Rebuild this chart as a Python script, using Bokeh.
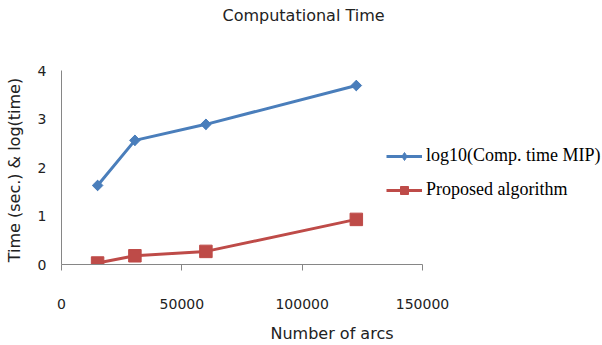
from bokeh.plotting import figure
from bokeh.models import Range1d, Legend, LegendItem, FixedTicker
from bokeh.embed import file_html
from bokeh.resources import INLINE
import math

title_text = "Computational Time"
x_label = "Number of arcs"
y_label = "Time (sec.)  & log(time)"
arcs = [15000, 30500, 60000, 122500]
mip_log = [1.63, 2.56, 2.89, 3.69]
proposed = [0.03, 0.18, 0.27, 0.93]
series_names = ["log10(Comp. time MIP)", "Proposed algorithm"]
x_ticks = [0, 50000, 100000, 150000]
y_ticks = [0, 1, 2, 3, 4]

BLUE = "#4A7EBB"
RED = "#BE4B48"

W, H = 602, 345
fl = 61          # frame left (canvas px)
ft = 70          # frame top
fb = 266         # frame bottom (canvas px)
px_x = 361 / 150000.0   # pixels per x unit

x_end = (W - fl) / px_x

p = figure(width=W, height=H, output_backend="svg", toolbar_location=None,
           x_range=Range1d(0, x_end), y_range=Range1d(y_ticks[0], y_ticks[-1]),
           min_border_left=fl, min_border_top=ft,
           min_border_right=0, min_border_bottom=H - fb)
p.outline_line_color = None
p.xgrid.visible = False
p.ygrid.visible = False

# title lifted towards the top of the canvas with empty lines below it
p.title.text = title_text + "\n\n"
p.title.align = "left"
p.title.vertical_align = "bottom"
p.title.offset = 161
p.title.standoff = 4
p.title.text_line_height = 1.15
p.title.text_font = "DejaVu Sans"
p.title.text_font_size = "16px"
p.title.text_font_style = "normal"
p.title.text_color = "#222222"

for ax in (p.xaxis[0], p.yaxis[0]):
    ax.axis_line_color = "#868686"
    ax.major_tick_line_color = "#868686"
    ax.minor_tick_line_color = None
    ax.major_label_text_font = "DejaVu Sans"
    ax.major_label_text_font_size = "14px"
    ax.major_label_text_color = "#222222"
    ax.axis_label_text_font = "DejaVu Sans"
    ax.axis_label_text_font_size = "16px"
    ax.axis_label_text_font_style = "normal"
    ax.axis_label_text_color = "#222222"

p.xaxis.ticker = FixedTicker(ticks=x_ticks)
p.yaxis.ticker = FixedTicker(ticks=y_ticks)
p.xaxis.bounds = (x_ticks[0], x_ticks[-1])
p.yaxis.bounds = (y_ticks[0], y_ticks[-1])
p.xaxis.major_tick_in = 0
p.xaxis.major_tick_out = 6
p.yaxis.major_tick_in = 0
p.yaxis.major_tick_out = 0
p.xaxis.axis_label = x_label
p.yaxis.axis_label = y_label
p.xaxis.major_label_standoff = 28
p.xaxis.axis_label_standoff = 12
p.yaxis.major_label_standoff = 15
p.yaxis.axis_label_standoff = 11
p.xaxis.formatter.use_scientific = False

l1 = p.line(arcs, mip_log, line_color=BLUE, line_width=3)
d1 = p.scatter(arcs, mip_log, marker="diamond", size=10,
               fill_color=BLUE, line_color=BLUE)
m1 = p.scatter(arcs, mip_log, marker="square", angle=math.pi / 4, size=7.5,
               fill_color=BLUE, line_color=BLUE)
l2 = p.line(arcs, proposed, line_color=RED, line_width=3)
m2 = p.scatter(arcs, proposed, marker="square", size=12.5,
               fill_color=RED, line_color=RED)

legend = Legend(items=[LegendItem(label=series_names[0], renderers=[l1, d1]),
                       LegendItem(label=series_names[1], renderers=[l2, m2])],
                location=(325, 64), orientation="vertical")
legend.label_text_font = "Liberation Serif"
legend.label_text_font_size = "18px"
legend.label_text_color = "#000000"
legend.glyph_width = 36
legend.glyph_height = 20
legend.label_height = 20
legend.label_standoff = 4
legend.spacing = 13
legend.padding = 0
legend.margin = 0
legend.border_line_alpha = 0
legend.background_fill_alpha = 0
p.add_layout(legend, "center")

open("out.html", "w").write(file_html(p, INLINE))
